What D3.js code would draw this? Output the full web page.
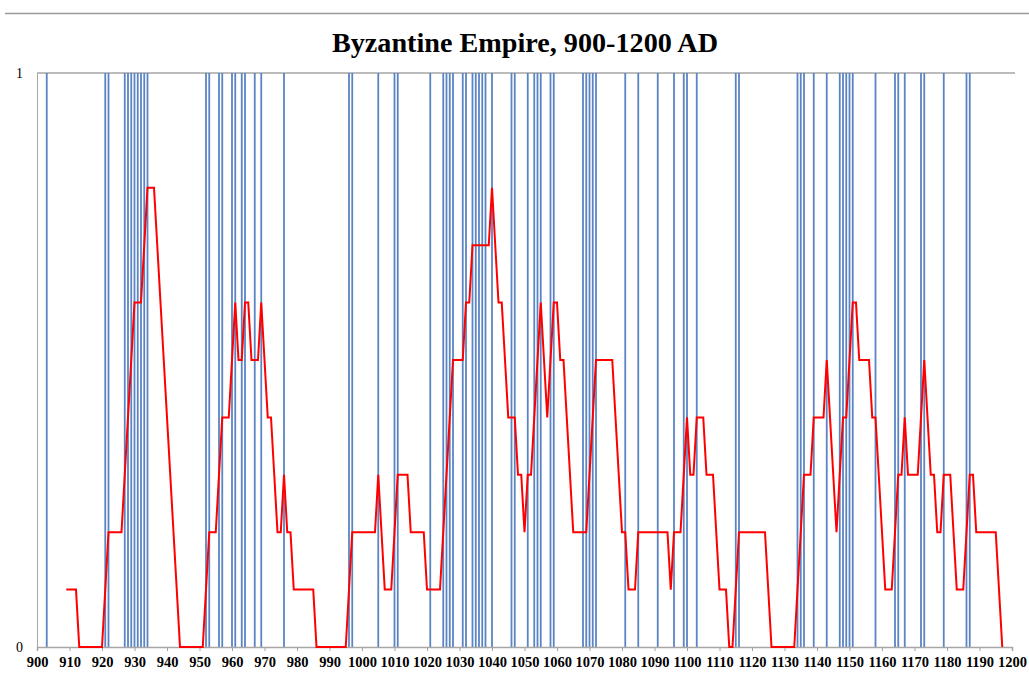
<!DOCTYPE html>
<html>
<head>
<meta charset="utf-8">
<script src="https://cdn.jsdelivr.net/npm/d3@7"></script>
<style>
  html, body { margin: 0; padding: 0; background: #fff; }
  svg { display: block; }
</style>
</head>
<body>
<svg id="chart" width="1029" height="675"></svg>
<script>
// Years in which an event occurred (drawn as full-height blue rules)
const eventYears = [
  903, 921, 922, 927, 928, 929, 930, 931, 932, 933, 934,
  952, 953, 956, 957, 960, 961, 963, 964, 967, 969, 976, 996, 997,
  1005, 1010, 1011, 1021, 1025, 1026, 1027, 1028, 1031, 1032,
  1034, 1035, 1036, 1037, 1038, 1040, 1046, 1047,
  1051, 1053, 1054, 1055, 1058, 1059, 1068, 1069, 1070, 1071, 1072,
  1081, 1085, 1091, 1096, 1099, 1100, 1103, 1115, 1116,
  1134, 1135, 1136, 1139, 1143, 1147, 1148, 1149, 1150, 1151,
  1158, 1164, 1165, 1167, 1172, 1173, 1179, 1186, 1187
];

// Annual series (red line), first value belongs to 909
const seriesStartYear = 909;
const seriesValues = [
  0.1, 0.1, 0.1, 0.1, 0, 0, 0, 0, 0, 0, 0,                 // 909-919
  0, 0.1, 0.2, 0.2, 0.2, 0.2, 0.2, 0.3, 0.4, 0.5,          // 920-929
  0.6, 0.6, 0.6, 0.7, 0.8, 0.8, 0.8, 0.7, 0.6, 0.5,        // 930-939
  0.4, 0.3, 0.2, 0.1, 0, 0, 0, 0, 0, 0,                    // 940-949
  0, 0, 0.1, 0.2, 0.2, 0.2, 0.3, 0.4, 0.4, 0.4,            // 950-959
  0.5, 0.6, 0.5, 0.5, 0.6, 0.6, 0.5, 0.5, 0.5, 0.6,        // 960-969
  0.5, 0.4, 0.4, 0.3, 0.2, 0.2, 0.3, 0.2, 0.2, 0.1,        // 970-979
  0.1, 0.1, 0.1, 0.1, 0.1, 0.1, 0, 0, 0, 0,                // 980-989
  0, 0, 0, 0, 0, 0, 0.1, 0.2, 0.2, 0.2,                    // 990-999
  0.2, 0.2, 0.2, 0.2, 0.2, 0.3, 0.2, 0.1, 0.1, 0.1,        // 1000-1009
  0.2, 0.3, 0.3, 0.3, 0.3, 0.2, 0.2, 0.2, 0.2, 0.2,        // 1010-1019
  0.1, 0.1, 0.1, 0.1, 0.1, 0.2, 0.3, 0.4, 0.5, 0.5,        // 1020-1029
  0.5, 0.5, 0.6, 0.6, 0.7, 0.7, 0.7, 0.7, 0.7, 0.7,        // 1030-1039
  0.8, 0.7, 0.6, 0.6, 0.5, 0.4, 0.4, 0.4, 0.3, 0.3,        // 1040-1049
  0.2, 0.3, 0.3, 0.4, 0.5, 0.6, 0.5, 0.4, 0.5, 0.6,        // 1050-1059
  0.6, 0.5, 0.5, 0.4, 0.3, 0.2, 0.2, 0.2, 0.2, 0.2,        // 1060-1069
  0.3, 0.4, 0.5, 0.5, 0.5, 0.5, 0.5, 0.5, 0.4, 0.3,        // 1070-1079
  0.2, 0.2, 0.1, 0.1, 0.1, 0.2, 0.2, 0.2, 0.2, 0.2,        // 1080-1089
  0.2, 0.2, 0.2, 0.2, 0.2, 0.1, 0.2, 0.2, 0.2, 0.3,        // 1090-1099
  0.4, 0.3, 0.3, 0.4, 0.4, 0.4, 0.3, 0.3, 0.3, 0.2,        // 1100-1109
  0.1, 0.1, 0.1, 0, 0, 0.1, 0.2, 0.2, 0.2, 0.2,            // 1110-1119
  0.2, 0.2, 0.2, 0.2, 0.2, 0.1, 0, 0, 0, 0,                // 1120-1129
  0, 0, 0, 0, 0.1, 0.2, 0.3, 0.3, 0.3, 0.4,                // 1130-1139
  0.4, 0.4, 0.4, 0.5, 0.4, 0.3, 0.2, 0.3, 0.4, 0.4,        // 1140-1149
  0.5, 0.6, 0.6, 0.5, 0.5, 0.5, 0.5, 0.4, 0.4, 0.3,        // 1150-1159
  0.2, 0.1, 0.1, 0.1, 0.2, 0.3, 0.3, 0.4, 0.3, 0.3,        // 1160-1169
  0.3, 0.3, 0.4, 0.5, 0.4, 0.3, 0.3, 0.2, 0.2, 0.3,        // 1170-1179
  0.3, 0.3, 0.2, 0.1, 0.1, 0.1, 0.2, 0.3, 0.3, 0.2,        // 1180-1189
  0.2, 0.2, 0.2, 0.2, 0.2, 0.2, 0.1, 0                     // 1190-1197
];

// Axis labels
const xTickYears = [900, 910, 920, 930, 940, 950, 960, 970, 980, 990, 1000,
  1010, 1020, 1030, 1040, 1050, 1060, 1070, 1080, 1090, 1100,
  1110, 1120, 1130, 1140, 1150, 1160, 1170, 1180, 1190, 1200];
const yTickValues = [0, 1];

const chartTitle = "Byzantine Empire, 900-1200 AD";

// ---- layout ----
const svg = d3.select("#chart");
const plot = { left: 37, right: 1012, top: 73, bottom: 647 };
const axisGray = "#a6a6a6";
const serif = "'Liberation Serif', 'Times New Roman', Times, serif";

const x = d3.scaleLinear().domain([900, 1200]).range([plot.left, plot.right]);
const y = d3.scaleLinear().domain([0, 1]).range([plot.bottom, plot.top]);

// thin rule across the top of the page
svg.append("line")
  .attr("x1", 5).attr("x2", 1029)
  .attr("y1", 13.5).attr("y2", 13.5)
  .attr("stroke", "#9a9a9a").attr("stroke-width", 1.5);

// title
svg.append("text")
  .attr("x", 525).attr("y", 52)
  .attr("text-anchor", "middle")
  .attr("font-family", serif)
  .attr("font-weight", "bold")
  .attr("font-size", 27)
  .attr("textLength", 386)
  .attr("lengthAdjust", "spacingAndGlyphs")
  .attr("fill", "#000")
  .text(chartTitle);

// top gridline at y = 1
svg.append("line")
  .attr("x1", plot.left).attr("x2", plot.right + 3)
  .attr("y1", y(1)).attr("y2", y(1))
  .attr("stroke", axisGray).attr("stroke-width", 1.5);

// event rules
svg.append("g")
  .selectAll("line")
  .data(eventYears)
  .join("line")
  .attr("x1", d => x(d)).attr("x2", d => x(d))
  .attr("y1", y(1)).attr("y2", y(0))
  .attr("stroke", "#5b84c4")
  .attr("stroke-width", 1.8);

// x axis
const xAxis = d3.axisBottom(x)
  .tickValues(xTickYears)
  .tickFormat(d3.format("d"))
  .tickSize(4)
  .tickPadding(6);
const gx = svg.append("g")
  .attr("transform", `translate(0,${plot.bottom})`)
  .call(xAxis);
gx.select(".domain").attr("stroke", axisGray).attr("stroke-width", 1.5);
gx.selectAll(".tick line").attr("stroke", axisGray).attr("stroke-width", 1);
gx.selectAll(".tick text")
  .attr("font-family", serif)
  .attr("font-weight", "bold")
  .attr("font-size", 14.5)
  .attr("fill", "#000");

// y axis
const yAxis = d3.axisLeft(y)
  .tickValues(yTickValues)
  .tickFormat(d3.format("d"))
  .tickSize(0)
  .tickPadding(14);
const gy = svg.append("g")
  .attr("transform", `translate(${plot.left},0)`)
  .call(yAxis);
gy.select(".domain").attr("stroke", axisGray).attr("stroke-width", 1);
gy.selectAll(".tick text")
  .attr("font-family", serif)
  .attr("font-size", 14)
  .attr("fill", "#000");

// red series
const line = d3.line()
  .x((d, i) => x(seriesStartYear + i))
  .y(d => y(d));
svg.append("path")
  .datum(seriesValues)
  .attr("d", line)
  .attr("fill", "none")
  .attr("stroke", "#ff0000")
  .attr("stroke-width", 2)
  .attr("stroke-linejoin", "miter");
</script>
</body>
</html>
